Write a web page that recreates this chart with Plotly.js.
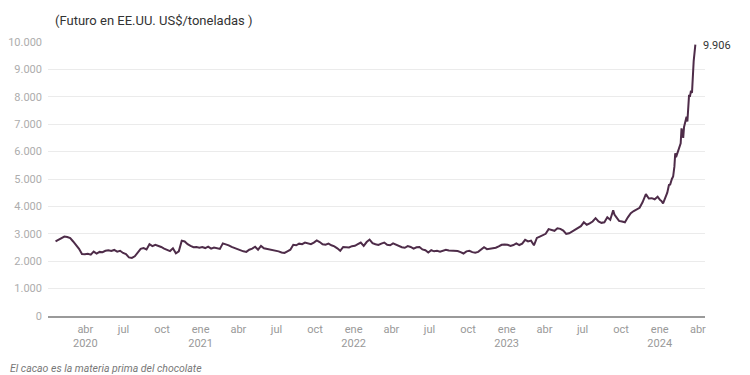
<!DOCTYPE html>
<html>
<head>
<meta charset="utf-8">
<script src="https://cdn.plot.ly/plotly-3.0.1.min.js"></script>
<style>html,body{margin:0;padding:0;background:#fff;overflow:hidden;}#chart{width:750px;height:375px;}</style>
</head>
<body>
<div id="chart"></div>
<script>
// Cocoa futures (US$/t)
const dates = [
"2020-01-21","2020-01-28","2020-02-04","2020-02-11","2020-02-18","2020-02-25",
"2020-03-03","2020-03-10","2020-03-17","2020-03-24","2020-03-31",
"2020-04-07","2020-04-14","2020-04-21","2020-04-28",
"2020-05-05","2020-05-12","2020-05-19","2020-05-26",
"2020-06-02","2020-06-09","2020-06-16","2020-06-23","2020-06-30",
"2020-07-07","2020-07-14","2020-07-21","2020-07-28",
"2020-08-04","2020-08-11","2020-08-18","2020-08-25",
"2020-09-01","2020-09-08","2020-09-15","2020-09-22","2020-09-29",
"2020-10-06","2020-10-13","2020-10-20","2020-10-27",
"2020-11-03","2020-11-10","2020-11-17","2020-11-24",
"2020-12-01","2020-12-08","2020-12-15","2020-12-22","2020-12-29",
"2021-01-05","2021-01-12","2021-01-19","2021-01-26",
"2021-02-02","2021-02-09","2021-02-16","2021-02-23",
"2021-03-02","2021-03-09","2021-03-16","2021-03-23","2021-03-30",
"2021-04-06","2021-04-13","2021-04-20","2021-04-27",
"2021-05-04","2021-05-11","2021-05-18","2021-05-25",
"2021-06-01","2021-06-08","2021-06-15","2021-06-22","2021-06-29",
"2021-07-06","2021-07-13","2021-07-20","2021-07-27",
"2021-08-03","2021-08-10","2021-08-17","2021-08-24","2021-08-31",
"2021-09-07","2021-09-14","2021-09-21","2021-09-28",
"2021-10-05","2021-10-12","2021-10-19","2021-10-26",
"2021-11-02","2021-11-09","2021-11-16","2021-11-23","2021-11-30",
"2021-12-07","2021-12-14","2021-12-21","2021-12-28",
"2022-01-04","2022-01-11","2022-01-18","2022-01-25",
"2022-02-01","2022-02-08","2022-02-15","2022-02-22",
"2022-03-01","2022-03-08","2022-03-15","2022-03-22","2022-03-29",
"2022-04-05","2022-04-12","2022-04-19","2022-04-26",
"2022-05-03","2022-05-10","2022-05-17","2022-05-24","2022-05-31",
"2022-06-07","2022-06-14","2022-06-21","2022-06-28",
"2022-07-05","2022-07-12","2022-07-19","2022-07-26",
"2022-08-02","2022-08-09","2022-08-16","2022-08-23","2022-08-30",
"2022-09-06","2022-09-13","2022-09-20","2022-09-27",
"2022-10-04","2022-10-11","2022-10-18","2022-10-25",
"2022-11-01","2022-11-08","2022-11-15","2022-11-22","2022-11-29",
"2022-12-06","2022-12-13","2022-12-20","2022-12-27",
"2023-01-03","2023-01-10","2023-01-17","2023-01-24","2023-01-31",
"2023-02-07","2023-02-14","2023-02-21","2023-02-28",
"2023-03-07","2023-03-14","2023-03-21","2023-03-28",
"2023-04-04","2023-04-11","2023-04-18","2023-04-25",
"2023-05-02","2023-05-09","2023-05-16","2023-05-23","2023-05-30",
"2023-06-06","2023-06-13","2023-06-20","2023-06-27",
"2023-07-04","2023-07-11","2023-07-18","2023-07-25",
"2023-08-01","2023-08-08","2023-08-15","2023-08-22","2023-08-29",
"2023-09-05","2023-09-12","2023-09-15","2023-09-19","2023-09-26",
"2023-10-03","2023-10-10","2023-10-17","2023-10-24","2023-10-31",
"2023-11-07","2023-11-14","2023-11-21","2023-11-24","2023-11-29",
"2023-12-06","2023-12-13","2023-12-20","2023-12-27",
"2024-01-02","2024-01-05","2024-01-09","2024-01-12","2024-01-16","2024-01-19",
"2024-01-23","2024-01-26","2024-01-30","2024-02-02","2024-02-05","2024-02-07",
"2024-02-09","2024-02-13","2024-02-16","2024-02-20","2024-02-22","2024-02-26",
"2024-02-28","2024-03-01","2024-03-05","2024-03-07","2024-03-11","2024-03-13",
"2024-03-15","2024-03-18","2024-03-20","2024-03-22","2024-03-26"
];
const prices = [
2720,2790,2860,2900,2880,2840,
2720,2600,2450,2260,2250,
2270,2240,2350,2280,
2340,2330,2380,2400,
2370,2410,2350,2380,2300,
2260,2140,2120,2180,
2300,2450,2480,2430,
2620,2550,2600,2570,2520,
2460,2420,2370,2470,
2290,2360,2750,2720,
2620,2560,2510,2520,2490,
2520,2480,2530,2460,
2500,2470,2450,2650,
2620,2580,2520,2480,2420,
2400,2360,2340,2420,
2460,2530,2420,2560,
2470,2450,2420,2400,2380,
2360,2320,2300,2360,
2420,2600,2580,2640,2620,
2680,2640,2620,2680,
2760,2700,2620,2600,
2640,2580,2540,2470,2380,
2520,2500,2500,2550,
2560,2620,2680,2560,
2700,2790,2660,2620,
2590,2640,2680,2600,2580,
2650,2600,2550,2510,
2490,2550,2520,2460,2510,
2520,2430,2400,2320,
2400,2360,2380,2350,
2400,2420,2390,2380,2360,
2370,2330,2280,2360,
2380,2330,2310,2340,
2420,2510,2440,2450,2470,
2490,2540,2600,2610,
2600,2560,2590,2650,2590,
2640,2780,2720,2750,
2580,2850,2900,2960,
3000,3170,3140,3110,
3200,3180,3120,3000,3020,
3080,3170,3220,3280,
3420,3330,3380,3450,
3570,3450,3400,3420,3600,
3510,3860,3700,3620,3470,
3450,3420,3600,3750,3830,
3880,3950,4150,4250,4450,
4290,4300,4260,4350,
4230,4200,4110,4250,4360,4500,
4780,4800,5000,5090,5450,5940,
5800,5960,6100,6300,6850,6500,
6900,7000,7270,7100,8070,8000,
8180,8150,8800,9300,9906
];
const tickDates = ["2020-04-01","2020-07-01","2020-10-01","2021-01-01","2021-04-01","2021-07-01","2021-10-01","2022-01-01","2022-04-01","2022-07-01","2022-10-01","2023-01-01","2023-04-01","2023-07-01","2023-10-01","2024-01-01","2024-04-01"];
const tickLabels = ["abr<br>2020","jul","oct","ene<br>2021","abr","jul","oct","ene<br>2022","abr","jul","oct","ene<br>2023","abr","jul","oct","ene<br>2024","abr"];
const yTicks = [0,1000,2000,3000,4000,5000,6000,7000,8000,9000,10000];
const titleText = "(Futuro en EE.UU. US$/toneladas )";
const noteText = "El cacao es la materia prima del chocolate";

const lastX = dates[dates.length-1];
const lastY = prices[prices.length-1];
const fmt = v => String(v).replace(/\B(?=(\d{3})+(?!\d))/g, ".");

const trace = {
  x: dates, y: prices, type: "scatter", mode: "lines",
  line: {color: "#4e2c49", width: 2},
  hoverinfo: "skip"
};

const layout = {
  width: 750, height: 375,
  margin: {l: 48, r: 45, t: 42, b: 59},
  paper_bgcolor: "#fff", plot_bgcolor: "#fff",
  separators: ",.",
  font: {family: "Roboto, sans-serif", color: "#999"},
  showlegend: false,
  title: {text: titleText, x: 8/750, xanchor: "left", xref: "paper", y: 1 - 20/375, yanchor: "middle",
          font: {family: "Roboto, sans-serif", size: 13, color: "#333"}},
  xaxis: {
    type: "date", range: ["2020-01-03", "2024-04-18"],
    tickmode: "array", tickvals: tickDates, ticktext: tickLabels,
    showgrid: false, zeroline: false,
    showline: true, linecolor: "#9a9a9a", linewidth: 1.6,
    ticks: "", tickfont: {size: 11, color: "#999"}, ticklabelstandoff: 2
  },
  yaxis: {
    range: [0, 10000], tickmode: "array", tickvals: yTicks,
    tickformat: ",d",
    showgrid: true, gridcolor: "#ebebeb", gridwidth: 1,
    zeroline: false, showline: false, ticks: "",
    tickfont: {size: 11, color: "#adadad"}, ticklabelstandoff: 5
  },
  annotations: [
    {x: lastX, y: lastY, xref: "x", yref: "y", text: fmt(lastY), showarrow: false,
     xanchor: "left", yanchor: "middle", xshift: 6, yshift: -1,
     font: {family: "Roboto, sans-serif", size: 11, color: "#333"}},
    {x: (8-48)/657, y: (316-368)/274, xref: "paper", yref: "paper", text: "<i>" + noteText + "</i>",
     showarrow: false, xanchor: "left", yanchor: "middle",
     font: {family: "Roboto, sans-serif", size: 10.5, color: "#777"}}
  ]
};

Plotly.newPlot("chart", [trace], layout, {displayModeBar: false, staticPlot: true});
</script>
</body>
</html>
